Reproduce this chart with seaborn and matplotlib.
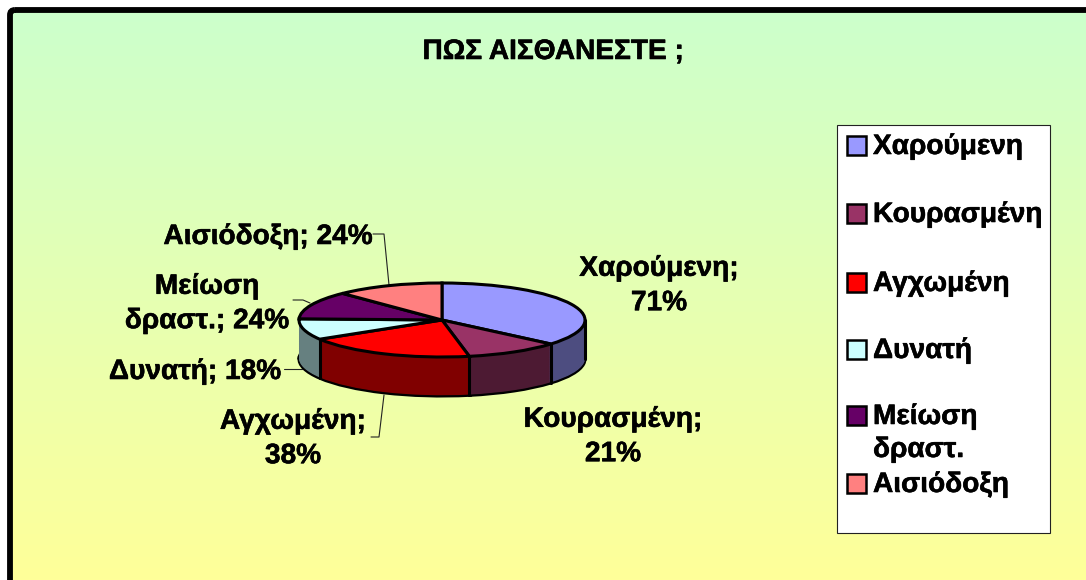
import numpy as np
import matplotlib
matplotlib.use('Agg')
import matplotlib.pyplot as plt
import matplotlib.patheffects as pe
from matplotlib.patches import FancyBboxPatch, Rectangle
import seaborn as sns

# Data
categories = ['Χαρούμενη', 'Κουρασμένη', 'Αγχωμένη', 'Δυνατή', 'Μείωση δραστ.', 'Αισιόδοξη']
values = [71, 21, 38, 18, 24, 24]
label_breaks = ['\n', '\n', '\n', ' ', ' ', ' ']
title = 'ΠΩΣ ΑΙΣΘΑΝΕΣΤΕ ;'
slice_colors = ['#9999FF', '#993366', '#FF0000', '#CCFFFF', '#660066', '#FF8080']

sns.set_theme(style='white')
plt.rcParams['font.family'] = ['Liberation Sans', 'DejaVu Sans']
plt.rcParams['font.weight'] = 'bold'

W, H = 1086, 580
FS = 20.2
# original text is a bit heavier than plain bold
heavy = [pe.withStroke(linewidth=0.4, foreground='black')]
palette = sns.color_palette(slice_colors)
dark_palette = [tuple(np.array(c) * 0.5) for c in palette]

fig = plt.figure(figsize=(W / 100, H / 100), dpi=100, facecolor='white')

# Pixel coordinate axes for background, texts and legend
bg = fig.add_axes([0, 0, 1, 1], zorder=0)
bg.axis('off')

cmap = sns.blend_palette(['#CCFFCC', '#FFFF99'], as_cmap=True)
bg.imshow(np.linspace(0, 1, 256).reshape(-1, 1), cmap=cmap, aspect='auto',
          extent=(10, W + 40, H, 10), zorder=0)
bg.set_xlim(0, W)
bg.set_ylim(H, 0)
bg.add_patch(FancyBboxPatch((10, 10), W + 100, H + 100, boxstyle='round,pad=0,rounding_size=5',
                            facecolor='none', edgecolor='black', lw=4.2, zorder=1))

bg.text(553, 52, title, ha='center', va='center', fontsize=FS, color='black', path_effects=heavy)

# Pie labels
label_pos = [(659, 286), (613, 437), (293, 439), (195, 372), (207, 304), (268, 237)]
for name, v, br, (x, y) in zip(categories, values, label_breaks, label_pos):
    txt = f"{name.replace(' ', chr(10))};{br}{v}%"
    bg.text(x, y, txt, ha='center', va='center', fontsize=FS, color='black',
            linespacing=1.42, path_effects=heavy)

# Leader lines
leaders = [([373, 384, 389], [234, 234, 285]),
           ([293, 303, 310], [300, 300, 303]),
           ([284, 302], [369, 369]),
           ([371, 379, 384], [437, 437, 395])]
for lx, ly in leaders:
    bg.plot(lx, ly, color='#222222', lw=0.8, zorder=2)

# Legend drawn by hand because of the uneven row spacing in the original
bg.add_patch(Rectangle((837, 125), 213, 408, facecolor='white', edgecolor='#222222', lw=0.8, zorder=2))
legend_y = [145, 213, 282, 349, 415, 483]
for name, c, y in zip(categories, palette, legend_y):
    bg.add_patch(Rectangle((847, y - 9.5), 19, 19, facecolor=c, edgecolor='black', lw=1.8, zorder=3))
    first, *rest = name.split(' ')
    bg.text(873, y + 2, first, ha='left', va='center', fontsize=FS, color='black', zorder=3, path_effects=heavy)
    for r in rest:
        bg.text(873, y + 35, r, ha='left', va='center', fontsize=FS, color='black', zorder=3, path_effects=heavy)

# Pie, squashed into an ellipse by the axes box
cx, cy, rx, ry, depth_px = 442, 320, 143, 37, 39
depth = depth_px / ry
left, right = cx - rx, cx + rx
top, bottom = cy - ry, cy + ry + depth_px
ax = fig.add_axes([left / W, 1 - bottom / H, (right - left) / W, (bottom - top) / H], zorder=1)
ax.patch.set_alpha(0)

pie_args = dict(startangle=90, counterclock=False)
ax.pie(values, colors=dark_palette, center=(0, -depth),
       wedgeprops=dict(edgecolor='black', lw=2.2, clip_on=False), **pie_args)
for off in np.linspace(depth - 0.02, 0.02, 60):
    ax.pie(values, colors=dark_palette, center=(0, -off),
           wedgeprops=dict(edgecolor='none', clip_on=False), **pie_args)
wedges, _ = ax.pie(values, colors=palette,
                   wedgeprops=dict(edgecolor='black', lw=2.2, clip_on=False, zorder=5), **pie_args)

# Vertical side edges at the slice boundaries in the front, and the outline
angles = [w.theta1 for w in wedges] + [0, 180]
for a in angles:
    sx, sy = np.cos(np.radians(a)), np.sin(np.radians(a))
    if sy <= 0:
        ax.plot([sx, sx], [sy, sy - depth], color='black', lw=2.2, zorder=4, clip_on=False)

ax.set_aspect('auto')
ax.set_xlim(-1, 1)
ax.set_ylim(-1 - depth, 1)

fig.savefig('out.png', dpi=100)
